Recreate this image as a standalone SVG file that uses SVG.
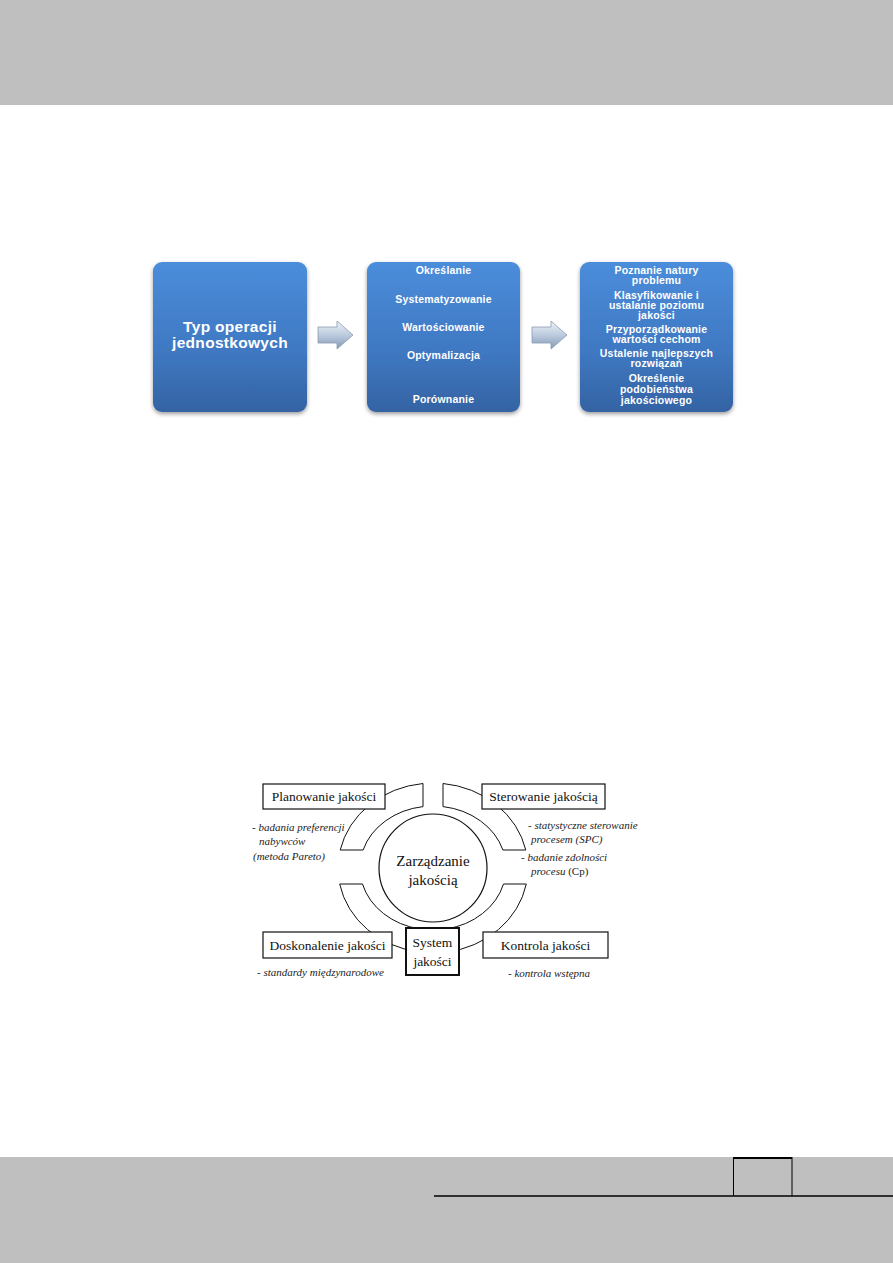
<svg xmlns="http://www.w3.org/2000/svg" width="893" height="1263" viewBox="0 0 893 1263">
<defs>
<linearGradient id="boxGrad" x1="0" y1="0" x2="0" y2="1">
<stop offset="0" stop-color="#4b8ddb"/>
<stop offset="0.6" stop-color="#3f78c2"/>
<stop offset="1" stop-color="#3463a3"/>
</linearGradient>
<linearGradient id="arrowGrad" x1="0" y1="0" x2="0" y2="1">
<stop offset="0" stop-color="#eef2f8"/>
<stop offset="0.5" stop-color="#bccbde"/>
<stop offset="1" stop-color="#8499b6"/>
</linearGradient>
<filter id="shadow" x="-10%" y="-10%" width="120%" height="125%">
<feGaussianBlur in="SourceAlpha" stdDeviation="2"/>
<feOffset dx="0" dy="2" result="b"/>
<feComponentTransfer><feFuncA type="linear" slope="0.4"/></feComponentTransfer>
<feMerge><feMergeNode/><feMergeNode in="SourceGraphic"/></feMerge>
</filter>
</defs>
<style>
.band{fill:#bfbfbf}
.sbox{fill:url(#boxGrad);filter:url(#shadow)}
.stxt{font-family:"Liberation Sans",Arial,sans-serif;font-weight:bold;fill:#ffffff;text-anchor:middle;font-size:10.5px;letter-spacing:0.2px}
.big{font-size:15.5px;letter-spacing:0.3px}
.arr{fill:url(#arrowGrad);stroke:#8b9bb2;stroke-width:0.8}
.box{fill:#ffffff;stroke:#111;stroke-width:1.2}
.sys{fill:#ffffff;stroke:#111;stroke-width:2}
.seg{fill:#ffffff;stroke:#111;stroke-width:1}
.lbl{font-family:"Liberation Serif","Times New Roman",serif;font-size:13.5px;fill:#111;text-anchor:middle}
.ann{font-family:"Liberation Serif","Times New Roman",serif;font-size:11px;font-style:italic;fill:#222}
</style>
<rect width="893" height="1263" fill="#ffffff"/>
<g id="header"><rect class="band" x="0" y="0" width="893" height="105"/></g>
<g id="footer">
<rect class="band" x="0" y="1157" width="893" height="106"/>
<line x1="434" y1="1196" x2="893" y2="1196" stroke="#000" stroke-width="1.5"/>
<line x1="733" y1="1158" x2="792" y2="1158" stroke="#000" stroke-width="2.2"/>
<line x1="733.5" y1="1157" x2="733.5" y2="1196" stroke="#000" stroke-width="1"/>
<line x1="792" y1="1157" x2="792" y2="1196" stroke="#000" stroke-width="1"/>
</g>

<g id="connectors">
<path id="arrow1" class="arr" d="M318 327 L337 327 L337 321 L353 335 L337 349 L337 343 L318 343 Z"/>
<path id="arrow2" class="arr" d="M532 327 L551 327 L551 321 L567 335 L551 349 L551 343 L532 343 Z"/>
</g>

<g id="node-typ">
<rect class="sbox" x="153" y="262" width="154" height="150" rx="9"/>
<text class="stxt big" x="230" y="332">Typ operacji</text>
<text class="stxt big" x="230" y="348">jednostkowych</text>
</g>
<g id="node-operacje">
<rect class="sbox" x="367" y="262" width="153" height="150" rx="9"/>
<text class="stxt" x="443.5" y="274">Określanie</text>
<text class="stxt" x="443.5" y="303">Systematyzowanie</text>
<text class="stxt" x="443.5" y="331">Wartościowanie</text>
<text class="stxt" x="443.5" y="359">Optymalizacja</text>
<text class="stxt" x="443.5" y="403">Porównanie</text>
</g>
<g id="node-cele">
<rect class="sbox" x="580" y="262" width="153" height="150" rx="9"/>
<text class="stxt" x="656.5" y="274">Poznanie natury</text>
<text class="stxt" x="656.5" y="284">problemu</text>
<text class="stxt" x="656.5" y="299">Klasyfikowanie i</text>
<text class="stxt" x="656.5" y="309">ustalanie poziomu</text>
<text class="stxt" x="656.5" y="319">jakości</text>
<text class="stxt" x="656.5" y="333">Przyporządkowanie</text>
<text class="stxt" x="656.5" y="343">wartości cechom</text>
<text class="stxt" x="656.5" y="357">Ustalenie najlepszych</text>
<text class="stxt" x="656.5" y="367">rozwiązań</text>
<text class="stxt" x="656.5" y="382">Określenie</text>
<text class="stxt" x="656.5" y="393">podobieństwa</text>
<text class="stxt" x="656.5" y="404">jakościowego</text>
</g>

<g id="ring">
<path class="seg" d="M423 783.5 A95 85 0 0 0 340.2 850 L363.1 850 A73 62 0 0 1 423 806.6 Z"/>
<path class="seg" d="M443 783.5 A95 85 0 0 1 525.8 850 L502.9 850 A73 62 0 0 0 443 806.6 Z"/>
<path class="seg" d="M339.7 884 A95 85 0 0 0 420 952.2 L420 929 A73 62 0 0 1 362.5 884 Z"/>
<path class="seg" d="M526.3 884 A95 85 0 0 1 446 952.2 L446 929 A73 62 0 0 0 503.5 884 Z"/>
</g>

<g id="node-zarzadzanie">
<circle cx="433" cy="868" r="54" fill="#fff" stroke="#111" stroke-width="1.2"/>
<text class="lbl" x="433" y="866" style="font-size:15px">Zarządzanie</text>
<text class="lbl" x="433" y="885" style="font-size:15px">jakością</text>
</g>
<g id="node-planowanie">
<rect class="box" x="263" y="784" width="122" height="25"/>
<text class="lbl" x="324" y="801">Planowanie jakości</text>
</g>
<g id="node-sterowanie">
<rect class="box" x="482" y="784" width="123" height="25"/>
<text class="lbl" x="543.5" y="801">Sterowanie jakością</text>
</g>
<g id="node-doskonalenie">
<rect class="box" x="263" y="932" width="129" height="26"/>
<text class="lbl" x="327.5" y="950">Doskonalenie jakości</text>
</g>
<g id="node-kontrola">
<rect class="box" x="483" y="932" width="125" height="26"/>
<text class="lbl" x="545.5" y="950">Kontrola jakości</text>
</g>
<g id="node-system">
<rect class="sys" x="406" y="928" width="53" height="47"/>
<text class="lbl" x="432.5" y="947">System</text>
<text class="lbl" x="432.5" y="966">jakości</text>
</g>

<g id="annotations">
<text class="ann" x="252" y="831">- badania preferencji</text>
<text class="ann" x="259" y="845">nabywców</text>
<text class="ann" x="253" y="860">(metoda Pareto)</text>
<text class="ann" x="528" y="829">- statystyczne sterowanie</text>
<text class="ann" x="531" y="843">procesem (SPC)</text>
<text class="ann" x="521" y="861">- badanie zdolności</text>
<text class="ann" x="531" y="875">procesu <tspan font-style="normal">(Cp)</tspan></text>
<text class="ann" x="257" y="976">- standardy międzynarodowe</text>
<text class="ann" x="508" y="977">- kontrola wstępna</text>
</g>
</svg>
